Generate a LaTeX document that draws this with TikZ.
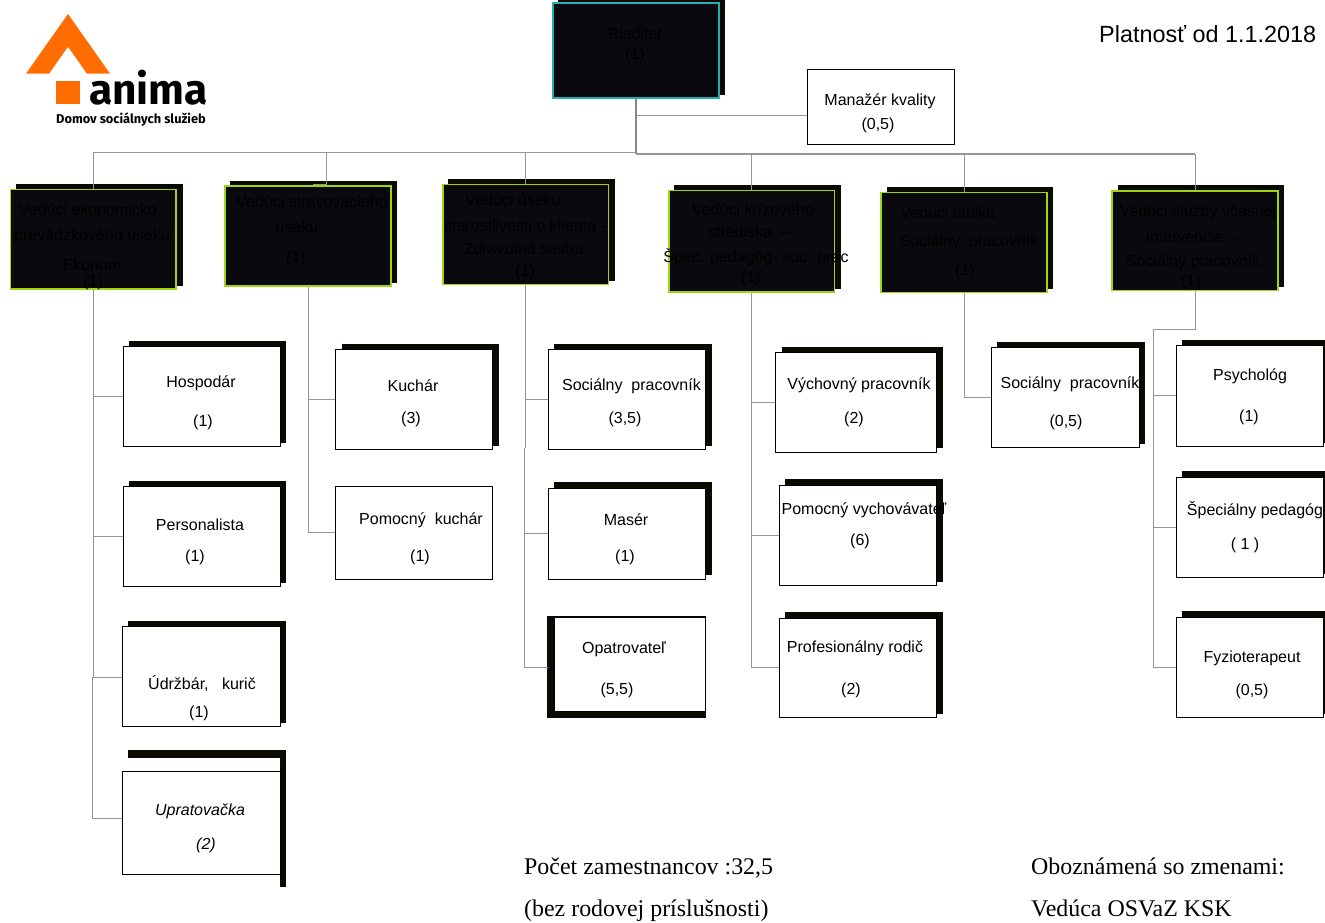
\documentclass[tikz,border=0pt]{standalone}
\usepackage{fontspec}
\setmainfont{Liberation Sans}
\newfontfamily\serifface{Liberation Serif}
\newfontfamily\logoface{Fira Sans}
\pgfdeclarelayer{shadowlayer}
\pgfdeclarelayer{connlayer}
\pgfsetlayers{shadowlayer,connlayer,main}
\definecolor{shadowc}{HTML}{0A0A02}
\definecolor{darkc}{HTML}{0A090E}
\definecolor{connc}{HTML}{969696}
\definecolor{limec}{HTML}{A0D410}
\definecolor{tealc}{HTML}{22AEB4}
\definecolor{orangec}{HTML}{FF6C00}
\tikzset{
  x=1pt,y=-1pt,
  orgbox/.style={rectangle,inner sep=0pt,outer sep=0pt,line width=1pt},
  whitebox/.style={orgbox,draw=black,fill=white},
  leadbox/.style={orgbox,draw=limec,line width=1.3pt,fill=darkc},
  topbox/.style={orgbox,draw=tealc,line width=1.3pt,fill=darkc},
  conn/.style={draw=connc,line width=1pt},
  trunk/.style={draw=connc!90!black,line width=1.5pt},
  lbl/.style={inner sep=0pt,yshift=-1pt,font=\fontsize{16}{16}\selectfont,text=black},
  slbl/.style={inner sep=0pt,anchor=base west,font=\serifface\fontsize{23.9}{23.9}\selectfont,text=black},
}
% name, style, x0,y0,x1,y1
\newcommand{\orgnode}[6]{%
  \node[#2,minimum width={(#5)-(#3)},minimum height={(#6)-(#4)}] (#1) at ({((#3)+(#5))/2},{((#4)+(#6))/2}) {};}
\newcommand{\dropsh}[4]{%
  \begin{pgfonlayer}{shadowlayer}\fill[shadowc] (#1,#2) rectangle (#3,#4);\end{pgfonlayer}}
\begin{document}
\begin{tikzpicture}
\useasboundingbox (0,0) rectangle (1325,923);
% logo
\fill[orangec] (68,14) -- (110,73.7) -- (87,73.7) -- (68,46.7) -- (49,73.7) -- (26,73.7) -- cycle;
\fill[orangec] (56,81) rectangle (79.5,104.5);
\node[inner sep=0pt,anchor=base west,font=\logoface\bfseries\fontsize{42.4}{42.4}\selectfont] (logoname) at (89,104.5) {anima};
\node[inner sep=0pt,anchor=base west,font=\logoface\bfseries\fontsize{12.8}{12.8}\selectfont] (logotag) at (56,123.5) {Domov sociálnych služieb};

% shadows
\dropsh{558}{0}{725}{95}
\dropsh{16}{184}{183}{286}
\dropsh{230}{181}{397}{283}
\dropsh{448}{179}{615}{281}
\dropsh{674}{185}{841}{289}
\dropsh{887}{187}{1053}{289}
\dropsh{1118}{185}{1284}{287}
\dropsh{129}{341}{286}{443}
\dropsh{129}{481}{286}{583}
\dropsh{128}{621}{286}{723}
\dropsh{128}{750}{286}{758}
\dropsh{279.5}{750}{286}{887}
\dropsh{342}{344}{499}{446}
\dropsh{554}{344}{712}{446}
\dropsh{554}{482}{712}{575}
\dropsh{547}{616}{706}{718}
\dropsh{782}{347}{943}{448}
\dropsh{785}{479}{943}{582}
\dropsh{785}{612}{943}{714}
\dropsh{997}{342}{1145}{444}
\dropsh{1182}{340}{1325}{443}
\dropsh{1182}{471}{1325}{574}
\dropsh{1182}{611}{1325}{714}

% boxes
\orgnode{rid}{topbox}{553}{3}{719}{98}
\orgnode{man}{whitebox}{807}{70}{954}{145}
\orgnode{eko}{leadbox}{10.5}{189.5}{176}{289}
\orgnode{str}{leadbox}{225}{186}{391}{286}
\orgnode{sta}{leadbox}{443}{184.5}{608.5}{284.5}
\orgnode{kri}{leadbox}{669}{190.5}{834.5}{292}
\orgnode{utu}{leadbox}{881}{192.7}{1047}{292.5}
\orgnode{vca}{leadbox}{1112}{191}{1278}{290.5}
\orgnode{hos}{whitebox}{123.5}{346.7}{280}{446}
\orgnode{per}{whitebox}{123}{486.7}{280}{586}
\orgnode{udr}{whitebox}{122.5}{626.5}{280}{726.5}
\orgnode{upr}{whitebox}{122.5}{771.5}{280}{874}
\orgnode{kuc}{whitebox}{335.7}{349.5}{492.5}{449}
\orgnode{pku}{whitebox}{335.7}{486}{492.5}{579}
\orgnode{soc}{whitebox}{548.3}{349.3}{705}{449}
\orgnode{mas}{whitebox}{548.3}{488}{705}{579}
\orgnode{opa}{whitebox}{554}{617}{705}{711}
\orgnode{vyc}{whitebox}{775.7}{352.7}{936}{452}
\orgnode{pvy}{whitebox}{779.3}{485}{936}{585}
\orgnode{pro}{whitebox}{779.3}{618}{936}{717}
\orgnode{sop}{whitebox}{991}{347.7}{1139}{447.5}
\orgnode{psy}{whitebox}{1176}{345.7}{1323.5}{446}
\orgnode{spe}{whitebox}{1176.3}{477}{1323.5}{577}
\orgnode{fyz}{whitebox}{1176.3}{617}{1323.5}{717}

% connectors
\coordinate (busL) at (93,153);
\coordinate (busR) at (1195,154);
\coordinate (strTop) at (326,153);
\coordinate (strStub) at (313,184);
\coordinate (opaEnd) at (548,667);
\coordinate (vcaBend) at (1153,329);
\coordinate (manIn) at (807,116);
\coordinate (uprIn) at (122.5,818);
\coordinate (ekoJog) at (92,677);
\coordinate (staJog) at (524,448);
\begin{pgfonlayer}{connlayer}
\draw[trunk] (rid.south) -- (rid.south |- busR);
\draw[conn] (rid.south |- manIn) -- (manIn);
\draw[conn] (busL) -- (rid.south |- busL);
\draw[conn,line width=1.3pt] (rid.south |- busR) -- (busR);
\draw[conn] (eko.north) -- (eko.north |- busL);
\draw[conn] (strTop) |- (strStub);
\draw[conn] (sta.north) -- (sta.north |- busL);
\draw[conn] (kri.north) -- (kri.north |- busR);
\draw[conn] (utu.north) -- (utu.north |- busR);
\draw[conn] (vca.north) -- (vca.north |- busR);
\draw[conn] (eko.south) -- (eko.south |- ekoJog);
\draw[conn] (ekoJog) |- (uprIn);
\draw[conn] (eko.south |- hos.west) -- (hos.west);
\draw[conn] (eko.south |- per.west) -- (per.west);
\draw[conn] (ekoJog) -- (udr.west |- ekoJog);
\draw[conn] (str.south) |- (pku.west);
\draw[conn] (str.south |- kuc.west) -- (kuc.west);
\draw[conn] (sta.south) -- (sta.south |- staJog);
\draw[conn] (staJog) |- (opaEnd);
\draw[conn] (sta.south |- soc.west) -- (soc.west);
\draw[conn] (staJog |- mas.west) -- (mas.west);
\draw[conn] (kri.south) |- (pro.west);
\draw[conn] (kri.south |- vyc.west) -- (vyc.west);
\draw[conn] (kri.south |- pvy.west) -- (pvy.west);
\draw[conn] (utu.south) |- (sop.west);
\draw[conn] (vca.south) |- (vcaBend) |- (fyz.west);
\draw[conn] (vcaBend |- psy.west) -- (psy.west);
\draw[conn] (vcaBend |- spe.west) -- (spe.west);
\end{pgfonlayer}

% texts
\node[lbl] (t01) at (635,33) {Riaditeľ};
\node[lbl] (t02) at (635,54) {(1)};
\node[lbl] (t03) at (880,100) {Manažér kvality};
\node[lbl] (t04) at (878,124) {(0,5)};
\node[lbl] (t05) at (88,209) {Vedúci ekonomicko};
\node[lbl] (t06) at (92,235) {prevádzkového úseku};
\node[lbl] (t07) at (92,264) {Ekonom};
\node[lbl] (t08) at (93,281) {(1)};
\node[lbl] (t09) at (312,201) {Vedúci stravovacieho};
\node[lbl] (t10) at (297,226) {úseku};
\node[lbl] (t11) at (296,257) {(1)};
\node[lbl] (t12) at (513,199) {Vedúci úseku};
\node[lbl] (t13) at (525,225) {starostlivosti o klienta -};
\node[lbl] (t14) at (524,248) {Zdravotná sestra};
\node[lbl] (t15) at (525,271) {(1)};
\node[lbl] (t16) at (753,209) {Vedúci krízového};
\node[lbl] (t17) at (749,231) {strediska \ --};
\node[lbl] (t18) at (756,256) {Špec. pedagóg- soc. prac};
\node[lbl] (t19) at (751,277) {(1)};
\node[lbl] (t20) at (948,212) {Vedúci útulku};
\node[lbl] (t21) at (969,241) {Sociálny\ \ pracovník};
\node[lbl] (t22) at (965,270) {(1)};
\node[lbl] (t23) at (1198,211) {Vedúci služby včasnej};
\node[lbl] (t24) at (1192,236) {intervencie \ -};
\node[lbl] (t25) at (1193,261) {Sociálny pracovník};
\node[lbl] (t26) at (1191,281) {(1)};
\node[lbl] (t27) at (201,382) {Hospodár};
\node[lbl] (t28) at (203,421) {(1)};
\node[lbl] (t29) at (200,524) {Personalista};
\node[lbl] (t30) at (195,556) {(1)};
\node[lbl] (t31) at (202,683) {Údržbár,\ \ \ kurič};
\node[lbl] (t32) at (199,712) {(1)};
\node[lbl,font=\itshape\fontsize{16}{16}\selectfont] (t33) at (200,810) {Upratovačka};
\node[lbl,font=\itshape\fontsize{16}{16}\selectfont] (t34) at (206,844) {(2)};
\node[lbl] (t35) at (413,385) {Kuchár};
\node[lbl] (t36) at (411,418) {(3)};
\node[lbl] (t37) at (421,519) {Pomocný\ \ kuchár};
\node[lbl] (t38) at (420,556) {(1)};
\node[lbl] (t39) at (631.5,385) {Sociálny\ \ pracovník};
\node[lbl] (t40) at (625,418) {(3,5)};
\node[lbl] (t41) at (626,519) {Masér};
\node[lbl] (t42) at (625,556) {(1)};
\node[lbl] (t43) at (624,648) {Opatrovateľ};
\node[lbl] (t44) at (617,689) {(5,5)};
\node[lbl] (t45) at (859,384) {Výchovný pracovník};
\node[lbl] (t46) at (854,418) {(2)};
\node[lbl] (t47) at (864,509) {Pomocný vychovávateľ};
\node[lbl] (t48) at (860,540) {(6)};
\node[lbl] (t49) at (855,647) {Profesionálny rodič};
\node[lbl] (t50) at (851,689) {(2)};
\node[lbl] (t51) at (1070,383) {Sociálny\ \ pracovník};
\node[lbl] (t52) at (1066,421) {(0,5)};
\node[lbl] (t53) at (1250,375) {Psychológ};
\node[lbl] (t54) at (1249,416) {(1)};
\node[lbl] (t55) at (1255,509) {Špeciálny pedagóg};
\node[lbl] (t56) at (1245,544) {( 1 )};
\node[lbl] (t57) at (1252,657) {Fyzioterapeut};
\node[lbl] (t58) at (1252,690) {(0,5)};
\node[inner sep=0pt,anchor=west,font=\fontsize{23.4}{23.4}\selectfont] (plat) at (1099,34) {Platnosť od 1.1.2018};
\node[slbl] (cnt1) at (524,874.5) {Počet zamestnancov :32,5};
\node[slbl] (cnt2) at (524,916.7) {(bez rodovej príslušnosti)};
\node[slbl] (ack1) at (1031,874.5) {Oboznámená so zmenami:};
\node[slbl] (ack2) at (1031,916.7) {Vedúca OSVaZ KSK};
\end{tikzpicture}
\end{document}
